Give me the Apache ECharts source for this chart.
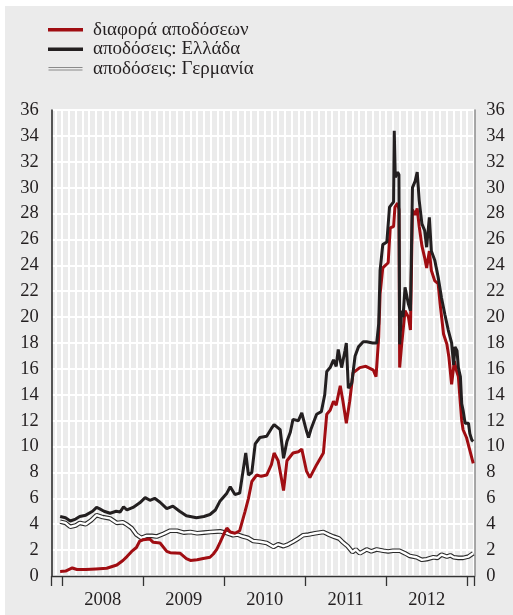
<!DOCTYPE html>
<html>
<head>
<meta charset="utf-8">
<script src="https://cdn.jsdelivr.net/npm/echarts@6/dist/echarts.min.js"></script>
<style>
  html, body { margin: 0; padding: 0; background: #ffffff; }
  #chart { position: absolute; left: 5px; top: 6px; width: 508px; height: 609px; }
</style>
</head>
<body>
<div id="chart"></div>
<script>
// Time positions are in months counted from 1 January 2008 (0 = start of 2008).

// Spread: Greek minus German 10-year yield (percentage points)
const spreadT = [-0.3, 0.5, 1.5, 2.2, 3.5, 5.0, 6.6, 8.1, 9.0, 9.6, 10.3, 11.0, 11.5, 12.0, 13.0, 13.5, 14.5, 15.5, 16.0, 17.5, 18.4, 19.0, 20.0, 20.9, 21.9, 22.4, 22.9, 23.4, 24.0, 24.4, 24.9, 25.6, 26.3, 27.1, 27.6, 28.1, 28.8, 29.5, 30.3, 31.0, 31.4, 32.0, 32.5, 32.8, 33.3, 34.2, 35.0, 35.5, 36.2, 36.7, 37.7, 38.7, 39.2, 39.7, 40.2, 40.6, 41.2, 41.6, 42.1, 42.6, 43.1, 44.1, 45.0, 46.1, 46.5, 46.9, 47.1, 47.5, 48.3, 48.6, 49.1, 49.3, 49.7, 49.9, 50.0, 50.3, 50.8, 51.3, 51.6, 51.9, 52.3, 52.6, 52.9, 53.3, 53.7, 54.0, 54.4, 54.7, 55.2, 55.7, 56.0, 56.5, 57.0, 57.3, 57.7, 58.1, 58.4, 58.7, 59.0, 59.2, 59.4, 59.9, 60.4, 60.9];
const spreadY = [0.35, 0.38, 0.62, 0.5, 0.5, 0.55, 0.6, 0.85, 1.2, 1.5, 1.9, 2.2, 2.7, 2.8, 2.85, 2.6, 2.55, 1.9, 1.8, 1.75, 1.35, 1.2, 1.25, 1.35, 1.45, 1.7, 2.05, 2.6, 3.3, 3.7, 3.4, 3.3, 3.5, 5.0, 6.0, 7.3, 7.8, 7.7, 7.8, 8.6, 9.5, 8.9, 7.5, 6.6, 8.9, 9.5, 9.6, 9.8, 8.1, 7.6, 8.6, 9.5, 12.5, 12.8, 13.5, 13.2, 14.7, 13.5, 11.8, 13.5, 15.7, 16.1, 16.2, 15.9, 15.4, 18.5, 21.8, 23.8, 24.2, 26.9, 27.0, 28.5, 28.8, 28.3, 16.1, 17.9, 20.5, 20.0, 19.0, 28.3, 27.9, 28.4, 27.0, 25.5, 24.6, 23.8, 25.1, 23.6, 22.8, 22.6, 21.0, 18.7, 17.9, 16.9, 14.8, 16.6, 15.9, 15.4, 13.3, 12.0, 11.3, 10.7, 9.7, 8.7];

// Greek 10-year government bond yield (%)
const greeceT = [-0.3, 0.5, 1.2, 2.0, 2.6, 3.5, 4.5, 5.1, 5.5, 6.2, 7.1, 8.0, 8.6, 9.1, 9.6, 10.5, 11.5, 12.3, 13.0, 13.7, 14.5, 15.5, 16.4, 17.4, 18.4, 19.9, 21.0, 21.9, 22.7, 23.4, 24.4, 24.9, 25.6, 26.3, 27.2, 27.6, 28.1, 28.6, 29.3, 30.3, 31.0, 31.4, 32.3, 32.8, 33.3, 33.8, 34.2, 35.0, 35.5, 36.2, 36.5, 36.9, 37.7, 38.4, 38.9, 39.2, 39.7, 40.2, 40.6, 40.9, 41.4, 41.9, 42.1, 42.4, 42.9, 43.4, 43.9, 44.6, 45.1, 46.0, 46.6, 46.9, 47.1, 47.5, 48.1, 48.5, 49.1, 49.2, 49.35, 49.7, 49.9, 50.0, 50.3, 50.5, 50.8, 51.3, 51.6, 51.9, 52.3, 52.6, 52.9, 53.3, 53.7, 54.0, 54.4, 54.7, 55.2, 55.7, 56.2, 56.7, 57.2, 57.7, 58.0, 58.2, 58.5, 58.7, 59.0, 59.2, 59.4, 59.7, 60.2, 60.4, 60.7, 60.9];
const greeceY = [4.6, 4.5, 4.25, 4.4, 4.6, 4.7, 5.0, 5.3, 5.2, 5.0, 4.85, 5.0, 4.95, 5.35, 5.1, 5.3, 5.65, 6.05, 5.85, 6.0, 5.7, 5.2, 5.4, 5.0, 4.65, 4.5, 4.6, 4.75, 5.1, 5.8, 6.4, 6.9, 6.3, 6.4, 9.5, 7.8, 8.0, 10.2, 10.7, 10.8, 11.4, 11.7, 11.3, 9.1, 10.4, 11.1, 12.1, 12.0, 12.6, 11.2, 10.7, 11.4, 12.5, 12.7, 14.0, 15.8, 16.1, 16.7, 16.2, 17.5, 16.1, 17.4, 18.0, 14.5, 14.9, 17.0, 17.7, 18.1, 18.1, 18.0, 18.0, 19.5, 23.6, 25.6, 25.8, 28.5, 28.9, 34.4, 30.8, 31.2, 31.0, 17.9, 20.5, 20.0, 22.3, 21.0, 20.5, 30.0, 30.5, 31.2, 29.0, 27.2, 26.7, 25.4, 27.7, 25.1, 24.4, 23.1, 21.5, 20.2, 19.0, 18.0, 16.3, 17.7, 17.4, 16.1, 15.4, 13.3, 12.8, 11.8, 11.8, 11.0, 10.5, 10.4];

// German 10-year government bond yield (%)
const germanyT = [-0.3, 0.5, 1.2, 2.0, 2.6, 3.5, 4.3, 5.1, 6.0, 7.1, 8.1, 9.0, 9.5, 10.3, 11.0, 11.7, 12.5, 13.3, 14.0, 15.0, 16.0, 17.0, 18.0, 19.0, 20.0, 21.0, 22.0, 23.4, 24.5, 25.3, 26.0, 26.8, 27.5, 28.3, 29.3, 30.3, 31.3, 32.0, 32.8, 33.5, 34.2, 35.0, 35.7, 36.5, 37.5, 38.7, 39.5, 40.2, 41.0, 41.6, 42.3, 43.0, 43.5, 44.1, 45.1, 45.8, 46.6, 47.6, 48.3, 49.0, 50.0, 50.8, 51.5, 52.5, 53.3, 54.0, 55.0, 55.6, 56.2, 57.0, 57.5, 58.0, 58.7, 59.4, 60.2, 60.9];
const germanyY = [4.2, 4.1, 3.8, 3.9, 4.1, 4.0, 4.3, 4.7, 4.55, 4.45, 4.1, 4.15, 4.0, 3.7, 3.2, 2.95, 3.1, 3.1, 3.05, 3.25, 3.5, 3.5, 3.35, 3.4, 3.3, 3.35, 3.4, 3.45, 3.3, 3.15, 3.2, 3.05, 2.95, 2.7, 2.65, 2.55, 2.25, 2.45, 2.3, 2.45, 2.65, 2.9, 3.15, 3.2, 3.3, 3.4, 3.2, 3.05, 2.9, 2.6, 2.3, 1.85, 2.05, 1.75, 2.05, 1.9, 2.05, 1.95, 1.9, 1.95, 1.95, 1.75, 1.55, 1.45, 1.25, 1.3, 1.45, 1.4, 1.65, 1.5, 1.6, 1.45, 1.4, 1.4, 1.5, 1.75];

const seriesNames = ['διαφορά αποδόσεων', 'αποδόσεις: Ελλάδα', 'αποδόσεις: Γερμανία'];
const yearLabels = ['2008', '2009', '2010', '2011', '2012'];
const yearMidpoints = [6, 18, 30, 42, 54];
const axisStart = -1.55;   // mid-November 2007
const axisEnd = 61.06;     // start of February 2013

const pairs = (t, y) => t.map((v, i) => [v, y[i]]);

const yearTicks = [axisStart, 0, 12, 24, 36, 48, 60, axisEnd];
const monthLines = [];
for (let m = -1; m <= 61; m++) monthLines.push(m);

const serif = 'Liberation Serif';
const ink = '#231f20';
const red = '#a00d12';
const grid = '#ffffff';

const chart = echarts.init(document.getElementById('chart'), null, { renderer: 'canvas' });

chart.setOption({
  animation: false,
  backgroundColor: '#ebebeb',
  legend: {
    orient: 'vertical',
    left: 38,
    top: 9,
    itemWidth: 35,
    itemHeight: 3.5,
    itemGap: 0,
    selectedMode: false,
    textStyle: { fontFamily: serif, fontSize: 19, color: ink, lineHeight: 19.5, padding: [0, 0, 0, 5] },
    data: [
      { name: seriesNames[0], icon: 'rect', itemStyle: { color: red } },
      { name: seriesNames[1], icon: 'rect', itemStyle: { color: ink } },
      { name: seriesNames[2], icon: 'path://M0,0H35V1H0Z M0,2.6H35V3.6H0Z', itemStyle: { color: '#8a8a8a' } }
    ]
  },
  grid: { left: 46.7, right: 38.7, top: 104, bottom: 39, containLabel: false },
  xAxis: [
    {
      type: 'value',
      min: axisStart,
      max: axisEnd,
      axisLine: { show: true, onZero: false, lineStyle: { color: '#333333', width: 1.3 } },
      axisTick: { show: true, customValues: yearTicks, length: 10, lineStyle: { color: '#333333', width: 1.3 } },
      axisLabel: {
        customValues: yearMidpoints,
        formatter: v => yearLabels[Math.round((v - 6) / 12)],
        fontFamily: serif, fontSize: 18.5, color: ink, margin: 15
      },
      splitLine: { show: false }
    },
    {
      type: 'value',
      min: axisStart,
      max: axisEnd,
      position: 'bottom',
      axisLine: { show: false, onZero: false },
      axisTick: { show: false, customValues: monthLines },
      axisLabel: { show: false },
      splitLine: { show: true, lineStyle: { color: grid, width: 2 } }
    }
  ],
  yAxis: [
    {
      type: 'value', position: 'left', min: 0, max: 36, interval: 2,
      axisLine: { show: true, onZero: false, lineStyle: { color: '#222222', width: 1.5 } },
      axisTick: { show: false },
      axisLabel: { fontFamily: serif, fontSize: 18.5, color: ink, margin: 13 },
      splitLine: { show: true, lineStyle: { color: grid, width: 2 } }
    },
    {
      type: 'value', position: 'right', min: 0, max: 36, interval: 2,
      axisLine: { show: true, onZero: false, lineStyle: { color: '#8c8c8c', width: 1.5 } },
      axisTick: { show: false },
      axisLabel: { fontFamily: serif, fontSize: 18.5, color: ink, margin: 12 },
      splitLine: { show: false }
    }
  ],
  series: [
    {
      id: 'germany-edge',
      type: 'line',
      data: pairs(germanyT, germanyY),
      showSymbol: false,
      silent: true,
      z: 2,
      lineStyle: { color: '#2a2a2a', width: 4.6 }
    },
    {
      name: seriesNames[2],
      type: 'line',
      data: pairs(germanyT, germanyY),
      showSymbol: false,
      z: 3,
      itemStyle: { color: '#ffffff' },
      lineStyle: { color: '#ffffff', width: 2.4 }
    },
    {
      name: seriesNames[0],
      type: 'line',
      data: pairs(spreadT, spreadY),
      showSymbol: false,
      z: 4,
      itemStyle: { color: red },
      lineStyle: { color: red, width: 3 }
    },
    {
      name: seriesNames[1],
      type: 'line',
      data: pairs(greeceT, greeceY),
      showSymbol: false,
      z: 5,
      itemStyle: { color: ink },
      lineStyle: { color: ink, width: 3 }
    }
  ]
});
</script>
</body>
</html>
